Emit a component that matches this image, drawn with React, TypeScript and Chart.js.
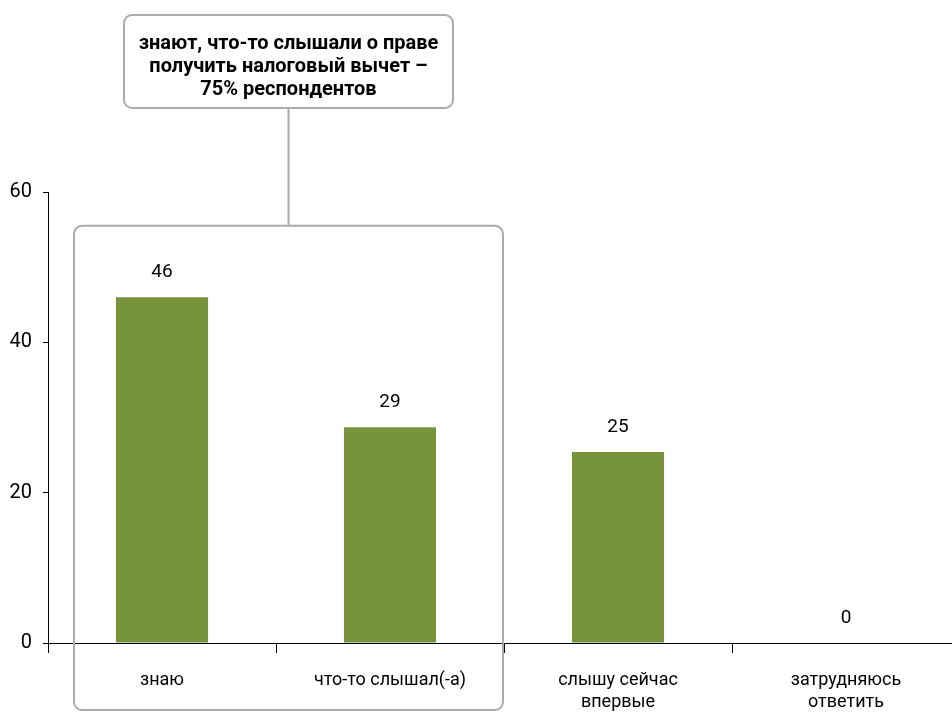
import React, { useEffect, useRef } from "react";
import { Chart, registerables } from "chart.js";

Chart.register(...registerables);

const categories: string[][] = [
  ["знаю"],
  ["что-то слышал(-а)"],
  ["слышу сейчас", "впервые"],
  ["затрудняюсь", "ответить"],
];
const values: number[] = [46, 28.7, 25.4, 0];
const yTicks: number[] = [0, 20, 40, 60];
const calloutLines: string[] = [
  "знают, что-то слышали о праве",
  "получить налоговый вычет –",
  "75% респондентов",
];

const FONT = "Roboto";
const BAR_COLOR = "#77933C";
const BOX_COLOR = "#ababab";

function roundRect(ctx: CanvasRenderingContext2D, x: number, y: number, w: number, h: number, r: number) {
  ctx.beginPath();
  ctx.moveTo(x + r, y);
  ctx.lineTo(x + w - r, y);
  ctx.arcTo(x + w, y, x + w, y + r, r);
  ctx.lineTo(x + w, y + h - r);
  ctx.arcTo(x + w, y + h, x + w - r, y + h, r);
  ctx.lineTo(x + r, y + h);
  ctx.arcTo(x, y + h, x, y + h - r, r);
  ctx.lineTo(x, y + r);
  ctx.arcTo(x, y, x + r, y, r);
  ctx.closePath();
}

const labelPlugin = {
  id: "valueLabels",
  afterDatasetsDraw(chart: any) {
    const ctx = chart.ctx;
    const meta = chart.getDatasetMeta(0);
    ctx.save();
    ctx.fillStyle = "#000";
    ctx.font = `19px ${FONT}`;
    ctx.textAlign = "center";
    ctx.textBaseline = "middle";
    meta.data.forEach((bar: any, i: number) => {
      ctx.fillText(String(Math.round(values[i])), bar.x, bar.y - 25);
    });
    ctx.restore();
  },
};

const calloutPlugin = {
  id: "callout",
  afterDraw(chart: any) {
    const ctx = chart.ctx;
    const xs = chart.scales.x;
    const ys = chart.scales.y;
    const left = xs.getPixelForValue(0) - 88;
    const right = (xs.getPixelForValue(1) + xs.getPixelForValue(2)) / 2 - 1;
    const top = ys.getPixelForValue(55.5);
    const bottom = chart.height - 2;
    const cx = (left + right) / 2;
    ctx.save();
    ctx.strokeStyle = BOX_COLOR;
    ctx.lineWidth = 2;
    roundRect(ctx, left, top, right - left, bottom - top, 8);
    ctx.stroke();
    const bw = 329;
    const bTop = 15;
    const bBottom = 108;
    ctx.fillStyle = "#fff";
    roundRect(ctx, cx - bw / 2, bTop, bw, bBottom - bTop, 8);
    ctx.fill();
    ctx.stroke();
    ctx.beginPath();
    ctx.moveTo(cx, bBottom);
    ctx.lineTo(cx, top);
    ctx.stroke();
    ctx.fillStyle = "#000";
    ctx.font = `bold 20px ${FONT}`;
    ctx.textAlign = "center";
    ctx.textBaseline = "middle";
    calloutLines.forEach((line, i) => {
      ctx.fillText(line, cx, 44 + i * 23);
    });
    ctx.restore();
  },
};

export default function App() {
  const ref = useRef<HTMLCanvasElement | null>(null);
  useEffect(() => {
    if (!ref.current) return;
    const chart = new Chart(ref.current, {
      type: "bar",
      data: {
        labels: categories,
        datasets: [
          {
            data: values,
            backgroundColor: BAR_COLOR,
            categoryPercentage: 1,
            barPercentage: 0.404,
          },
        ],
      },
      options: {
        animation: false,
        responsive: false,
        devicePixelRatio: 1,
        layout: { padding: { top: 192, right: 8, left: 0, bottom: 0 } },
        plugins: {
          legend: { display: false },
          tooltip: { enabled: false },
        },
        scales: {
          x: {
            grid: {
              display: true,
              drawOnChartArea: false,
              drawTicks: true,
              tickLength: 10,
              color: "#000",
              offset: true,
            },
            border: { display: true, color: "#000", width: 1 },
            ticks: {
              color: "#000",
              font: { family: FONT, size: 18, lineHeight: 1.25 },
              padding: 16,
              maxRotation: 0,
              autoSkip: false,
            },
            afterFit(scale: any) {
              scale.height = 69;
            },
          },
          y: {
            min: 0,
            max: 60,
            afterBuildTicks(scale: any) {
              scale.ticks = yTicks.map((v) => ({ value: v }));
            },
            grid: {
              display: true,
              drawOnChartArea: false,
              drawTicks: true,
              tickLength: 5,
              color: "#000",
            },
            border: { display: true, color: "#000", width: 1 },
            ticks: {
              color: "#000",
              font: { family: FONT, size: 20 },
              padding: 11,
            },
            afterFit(scale: any) {
              scale.width = 48;
            },
          },
        },
      },
      plugins: [labelPlugin, calloutPlugin],
    });
    return () => chart.destroy();
  }, []);
  return (
    <div
      style={{
        position: "absolute",
        left: 0,
        top: 0,
        width: 952,
        height: 712,
        overflow: "hidden",
        background: "#fff",
      }}
    >
      <canvas ref={ref} width={968} height={712} style={{ display: "block" }} />
    </div>
  );
}
